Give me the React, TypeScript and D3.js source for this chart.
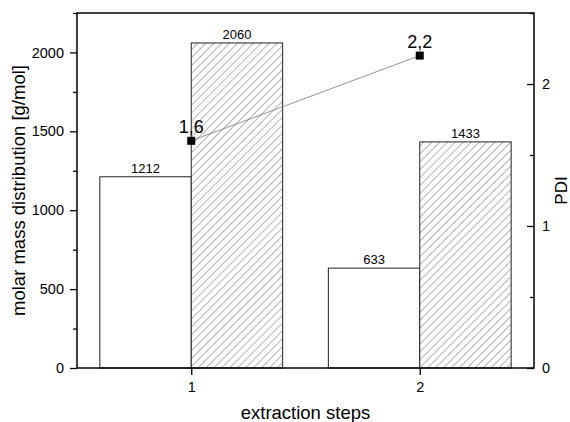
import React, { useEffect, useRef } from 'react';
import * as d3 from 'd3';

const steps = [1, 2];
const mnValues = [1212, 633];
const mwValues = [2060, 1433];
const pdiValues = [1.6, 2.2];
const pdiLabels = ['1,6', '2,2'];
const leftTicks = [0, 500, 1000, 1500, 2000];
const rightTicks = [0, 1, 2];

const App = () => {
  const ref = useRef<SVGSVGElement>(null);

  useEffect(() => {
    const W = 570;
    const H = 422;
    const margin = { left: 77, right: 36, top: 13, bottom: 54 };
    const width = W - margin.left - margin.right;
    const height = H - margin.top - margin.bottom;
    const font = 'Liberation Sans, Arial, sans-serif';

    const root = d3.select(ref.current);
    root.selectAll('*').remove();

    const defs = root.append('defs');
    const gap = 5.6;
    const pat = defs.append('pattern')
      .attr('id', 'hatch')
      .attr('patternUnits', 'userSpaceOnUse')
      .attr('width', gap)
      .attr('height', gap)
      .attr('patternTransform', 'rotate(45)');
    pat.append('rect').attr('width', gap).attr('height', gap).attr('fill', 'white');
    pat.append('line')
      .attr('x1', 0).attr('y1', 0).attr('x2', 0).attr('y2', gap)
      .attr('stroke', '#444').attr('stroke-width', 0.8);

    const svg = root.append('g')
      .attr('transform', `translate(${margin.left}, ${margin.top})`);

    const x = d3.scaleLinear().domain([0.5, 2.5]).range([0, width]);
    const yL = d3.scaleLinear().domain([0, 2250]).range([height, 0]);
    const yR = d3.scaleLinear().domain([0, 2.5]).range([height, 0]);
    const barW = x(1.4) - x(1);

    // bars
    steps.forEach((s, i) => {
      svg.append('rect')
        .attr('x', x(s) - barW).attr('y', yL(mnValues[i]))
        .attr('width', barW).attr('height', height - yL(mnValues[i]))
        .attr('fill', 'white').attr('stroke', '#222').attr('stroke-width', 1);
      svg.append('rect')
        .attr('x', x(s)).attr('y', yL(mwValues[i]))
        .attr('width', barW).attr('height', height - yL(mwValues[i]))
        .attr('fill', 'url(#hatch)').attr('stroke', '#222').attr('stroke-width', 1);
      svg.append('text')
        .attr('x', x(s) - barW / 2).attr('y', yL(mnValues[i]) - 4)
        .attr('text-anchor', 'middle').attr('font-family', font).attr('font-size', 13)
        .text(mnValues[i]);
      svg.append('text')
        .attr('x', x(s) + barW / 2).attr('y', yL(mwValues[i]) - 4)
        .attr('text-anchor', 'middle').attr('font-family', font).attr('font-size', 13)
        .text(mwValues[i]);
    });

    // PDI line
    const line = d3.line<number>().x((d, i) => x(steps[i])).y(d => yR(d));
    svg.append('path')
      .attr('d', line(pdiValues))
      .attr('fill', 'none').attr('stroke', '#777').attr('stroke-width', 0.8);
    steps.forEach((s, i) => {
      svg.append('rect')
        .attr('x', x(s) - 4).attr('y', yR(pdiValues[i]) - 4)
        .attr('width', 8).attr('height', 8).attr('fill', 'black');
      svg.append('text')
        .attr('x', x(s)).attr('y', yR(pdiValues[i]) - 8)
        .attr('text-anchor', 'middle').attr('font-family', font).attr('font-size', 18)
        .text(pdiLabels[i]);
    });

    // frame
    svg.append('rect')
      .attr('width', width).attr('height', height)
      .attr('fill', 'none').attr('stroke', 'black').attr('stroke-width', 1.5);

    // left axis
    const left = svg.append('g')
      .call(d3.axisLeft(yL).tickValues(leftTicks).tickSize(7).tickPadding(6).tickFormat(d3.format('d')));
    left.append('g').call(d3.axisLeft(yL).tickValues([250, 750, 1250, 1750, 2250]).tickSize(4).tickFormat(() => ''));
    // right axis (inward ticks)
    const right = svg.append('g').attr('transform', `translate(${width},0)`)
      .call(d3.axisRight(yR).tickValues(rightTicks).tickSize(-7).tickPadding(8).tickFormat(d3.format('d')));
    right.append('g').call(d3.axisRight(yR).tickValues([0.5, 1.5, 2.5]).tickSize(-4).tickFormat(() => ''));
    // bottom axis
    const bottom = svg.append('g').attr('transform', `translate(0,${height})`)
      .call(d3.axisBottom(x).tickValues(steps).tickSize(7).tickPadding(7).tickFormat(d3.format('d')));

    [left, right, bottom].forEach(g => {
      g.selectAll('.domain').remove();
      g.selectAll('line').attr('stroke', 'black').attr('stroke-width', 1.3);
      g.selectAll('text').attr('font-family', font).attr('font-size', 14.5).attr('fill', 'black');
    });

    // axis titles
    root.append('text')
      .attr('transform', `translate(25, ${margin.top + height / 2}) rotate(-90)`)
      .attr('text-anchor', 'middle').attr('font-family', font).attr('font-size', 18.5)
      .text('molar mass distribution [g/mol]');
    root.append('text')
      .attr('transform', `translate(567, ${margin.top + height / 2}) rotate(-90)`)
      .attr('text-anchor', 'middle').attr('font-family', font).attr('font-size', 17)
      .text('PDI');
    root.append('text')
      .attr('x', margin.left + width / 2).attr('y', 419)
      .attr('text-anchor', 'middle').attr('font-family', font).attr('font-size', 18.5)
      .text('extraction steps');
  }, []);

  return (
    <svg ref={ref} width={570} height={422}
      style={{ position: 'absolute', left: 0, top: 0, background: 'white' }} />
  );
};

export default App;
